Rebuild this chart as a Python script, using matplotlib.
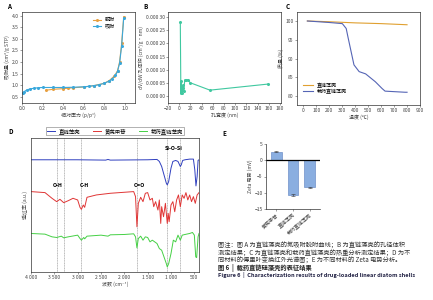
import numpy as np
import matplotlib.pyplot as plt

plt.rcParams['font.family'] = ['Noto Sans CJK SC', 'DejaVu Sans']
plt.rcParams['axes.unicode_minus'] = True

# --- A: N2 isotherm ---
p_ads = [0.005, 0.02, 0.05, 0.08, 0.12, 0.16, 0.2, 0.3, 0.4, 0.5, 0.6, 0.65, 0.7,
         0.75, 0.8, 0.85, 0.88, 0.91, 0.93, 0.95, 0.97, 0.99]
v_ads = [0.65, 0.72, 0.8, 0.84, 0.87, 0.89, 0.9, 0.9, 0.9, 0.91, 0.93, 0.95, 0.98,
         1.02, 1.08, 1.18, 1.28, 1.42, 1.6, 1.95, 2.7, 3.9]
p_des = [0.23, 0.3, 0.4, 0.45, 0.5, 0.6, 0.7, 0.8, 0.85, 0.9, 0.93, 0.95, 0.97, 0.99]
v_des = [0.78, 0.82, 0.85, 0.87, 0.89, 0.92, 0.98, 1.08, 1.2, 1.4, 1.62, 2.0, 2.8, 3.95]

# --- B: pore size distribution ---
pore_w = [2, 3, 4, 5, 6, 7, 8, 10, 12, 15, 20, 55, 158]
pore_v = [0.00028, 0.00001, 0.000055, 0.00001, 0.00003, 0.00004, 0.00002, 0.00006,
          0.00006, 0.000062, 0.00005, 0.000022, 0.000045]

# --- C: TGA ---
temp_plain = [30, 200, 400, 600, 800]
mass_plain = [100, 99.8, 99.5, 99.3, 99.0]
temp_load = [30, 200, 300, 330, 345, 365, 390, 430, 480, 555, 607, 630, 680, 785, 800]
mass_load = [100, 99.6, 99.3, 98.0, 95.5, 92.3, 88.3, 86.5, 85.9, 83.8, 82.0, 81.3, 81.2, 81.0, 81.0]

# --- D: FTIR ---
wn_blue = [4000, 3000, 2400, 2350, 2300, 1500, 1300, 1250, 1200, 1150, 1100, 1080, 1050,
           1000, 960, 900, 850, 800, 780, 750, 700, 600, 520, 490, 465, 440, 420, 400]
t_blue = [3.40, 3.40, 3.39, 3.41, 3.39, 3.40, 3.41, 3.35, 3.20, 2.95, 2.70, 2.65, 2.75,
          3.15, 3.35, 3.38, 3.35, 3.20, 3.25, 3.38, 3.40, 3.42, 3.42, 3.10, 2.62, 2.90, 3.38, 3.40]
wn_red = [4000, 3700, 3550, 3450, 3380, 3300, 3200, 3100, 3000, 2950, 2920, 2880, 2850, 2800,
          2600, 2300, 2000, 1800, 1760, 1730, 1700, 1650, 1600, 1550, 1500, 1450, 1400, 1370,
          1330, 1280, 1250, 1220, 1200, 1160, 1120, 1080, 1060, 1040, 1000, 960, 920, 880,
          840, 800, 760, 720, 680, 640, 600, 560, 520, 480, 440, 400]
t_red = [2.45, 2.42, 2.25, 2.15, 2.22, 2.12, 2.18, 2.25, 2.20, 1.98, 1.92, 2.05, 1.98, 2.28,
         2.35, 2.40, 2.43, 2.45, 2.30, 1.40, 2.10, 2.28, 2.15, 2.40, 2.42, 2.20, 2.25, 2.00,
         2.15, 1.90, 2.20, 1.50, 2.00, 1.70, 2.10, 1.50, 1.80, 1.55, 2.05, 2.15, 1.85, 2.20,
         2.35, 2.00, 2.35, 2.25, 2.42, 2.20, 2.35, 2.15, 2.30, 2.10, 2.35, 2.42]
wn_green = [4000, 3700, 3550, 3450, 3350, 3300, 3200, 3000, 2950, 2920, 2870, 2850, 2800,
            2500, 2350, 2300, 2000, 1800, 1760, 1730, 1700, 1650, 1600, 1550, 1500, 1450,
            1400, 1300, 1250, 1200, 1150, 1100, 1080, 1050, 1000, 950, 900, 850, 800, 760,
            700, 600, 540, 500, 470, 450, 420, 400]
t_green = [1.20, 1.18, 1.10, 1.08, 1.12, 1.07, 1.10, 1.15, 1.05, 1.00, 1.08, 1.04, 1.12,
           1.15, 1.12, 1.16, 1.17, 1.19, 1.10, 0.77, 1.05, 1.12, 1.00, 1.10, 1.08, 0.95,
           1.00, 0.90, 0.75, 0.70, 0.50, 0.30, 0.20, 0.30, 0.60, 1.00, 0.95, 1.15, 1.00, 1.15,
           1.17, 1.20, 1.23, 1.15, 0.50, 0.48, 1.10, 1.20]
band_pos = [3450, 3300, 2930, 1730, 1080, 800]

# --- E: Zeta ---
zeta_names = ['黄芪甲苷', '直链藻壳', '载药直链藻壳']
zeta_vals = [2.6, -10.7, -8.3]
zeta_err = [0.2, 0.4, 0.2]

fig = plt.figure(figsize=(4.33, 3.0), dpi=100)
W, H = 433, 300

def box(l, t, r, b):
    return [l / W, 1 - b / H, (r - l) / W, (b - t) / H]

fs = 3.6
txt = '#444444'
def style(ax):
    ax.tick_params(labelsize=fs, length=1.5, width=0.4, pad=1, colors='#555555',
                   labelcolor=txt)
    for s in ax.spines.values():
        s.set_linewidth(0.5)
        s.set_color('#333333')

# A
ax = fig.add_axes(box(22, 12, 135, 103))
ax.plot(p_des, v_des, color='#e8a040', lw=0.8, marker='o', ms=1.2, label='脱附')
ax.plot(p_ads, v_ads, color='#3aa8dc', lw=0.8, marker='o', ms=1.2, label='吸附')
ax.set_xlim(0, 1.1)
ax.set_ylim(0.23, 4.16)
ax.set_xticks([0, 0.2, 0.4, 0.6, 0.8, 1.0])
ax.set_yticks([0.5, 1.0, 1.5, 2.0, 2.5, 3.0, 3.5, 4.0])
ax.set_xlabel('相对压力 (p/p°)', fontsize=fs, labelpad=1, color=txt)
ax.set_ylabel('吸附量 (cm³/g STP)', fontsize=fs, labelpad=1, color=txt)
ax.legend(fontsize=fs, frameon=False, loc='upper left', bbox_to_anchor=(0.6, 0.98),
          handlelength=1.5, borderpad=0.2, labelspacing=0.2)
style(ax)
fig.text(7 / W, 1 - 9 / H, 'A', fontsize=4.5, fontweight='bold')

# B
ax = fig.add_axes(box(168, 12, 281, 103))
ax.plot(pore_w, pore_v, color='#40c8a0', lw=0.8, marker='o', ms=1.2)
ax.set_xlim(-17, 182)
ax.set_ylim(-0.000027, 0.00032)
ax.set_xticks(range(-20, 181, 20))
ax.set_yticks([0, 0.00005, 0.0001, 0.00015, 0.0002, 0.00025, 0.0003])
ax.set_yticklabels(['0.000 00', '0.000 05', '0.000 10', '0.000 15', '0.000 20',
                    '0.000 25', '0.000 30'])
ax.set_xlabel('孔宽度 (nm)', fontsize=fs, labelpad=1, color=txt)
ax.set_ylabel('dV/dW 孔体积 (cm³/g·nm)', fontsize=fs, labelpad=1, color=txt)
style(ax)
fig.text(143 / W, 1 - 9 / H, 'B', fontsize=4.5, fontweight='bold')

# C
ax = fig.add_axes(box(297, 12, 420, 105))
ax.plot(temp_plain, mass_plain, color='#e0a030', lw=0.8, label='直链藻壳')
ax.plot(temp_load, mass_load, color='#5565b5', lw=0.8, label='载药直链藻壳')
ax.set_xlim(-50, 890)
ax.set_ylim(77.6, 102.4)
ax.set_xticks(range(0, 901, 100))
ax.set_yticks([80, 85, 90, 95, 100])
ax.set_xlabel('温度 (℃)', fontsize=fs, labelpad=1, color=txt)
ax.set_ylabel('质量 (%)', fontsize=fs, labelpad=1, color=txt)
ax.legend(fontsize=fs, frameon=False, loc='lower left', bbox_to_anchor=(0.02, 0.08),
          handlelength=2, borderpad=0.2, labelspacing=0.2)
style(ax)
fig.text(286 / W, 1 - 9 / H, 'C', fontsize=4.5, fontweight='bold')

# D
ax = fig.add_axes(box(31, 138, 199, 272))
for x in band_pos:
    ax.axvline(x, color='#888888', lw=0.4, ls=(0, (2, 1)))
ax.plot(wn_blue, t_blue, color='#2f3fbf', lw=0.7, label='直链藻壳')
ax.plot(wn_red, t_red, color='#e03535', lw=0.7, label='黄芪甲苷')
ax.plot(wn_green, t_green, color='#45d045', lw=0.7, label='载药直链藻壳')
ax.set_xlim(4000, 400)
ax.set_ylim(0.05, 4.05)
ax.set_xticks([4000, 3500, 3000, 2500, 2000, 1500, 1000, 500])
ax.set_xticklabels(['4 000', '3 500', '3 000', '2 500', '2 000', '1 500', '1 000', '500'])
ax.set_yticks([])
ax.set_xlabel('波数 (cm⁻¹)', fontsize=fs, labelpad=1, color=txt)
ax.set_ylabel('透过率 (a.u.)', fontsize=fs, labelpad=2, color=txt)
for lab, x, y in [('O-H', 3420, 2.6), ('C-H', 2850, 2.6), ('C=O', 1680, 2.6),
                  ('Si-O-Si', 950, 3.7)]:
    ax.text(x, y, lab, fontsize=3.3, fontweight='bold', ha='center', family='DejaVu Sans')
ax.legend(fontsize=3.9, loc='lower center', bbox_to_anchor=(0.5, 1.0), ncol=3,
          frameon=True, fancybox=False, edgecolor='#555555', handlelength=1.5,
          borderpad=0.2, columnspacing=2.2).get_frame().set_linewidth(0.4)
style(ax)
fig.text(8 / W, 1 - 134 / H, 'D', fontsize=4.5, fontweight='bold')

# E
ax = fig.add_axes(box(266, 144, 320, 209))
xpos = np.arange(len(zeta_vals))
ax.bar(xpos, zeta_vals, width=0.65, color='#8aaee0', edgecolor='#5a7fc0', lw=0.4,
       yerr=zeta_err, error_kw=dict(lw=0.4, capsize=1.2, capthick=0.4, ecolor='#333333'))
ax.axhline(0, color='black', lw=0.9)
ax.set_xlim(-0.6, 2.6)
ax.set_ylim(-15, 5)
ax.set_yticks([5, 0, -5, -10, -15])
ax.set_xticks(xpos)
ax.set_xticklabels(zeta_names, rotation=40, ha='right', rotation_mode='anchor')
ax.set_ylabel('Zeta 电势 (mV)', fontsize=fs, labelpad=1, color=txt)
for s in ['top', 'right']:
    ax.spines[s].set_visible(False)
style(ax)
fig.text(222 / W, 1 - 136 / H, 'E', fontsize=4.5, fontweight='bold')

# caption
cap = ['图注：图 A 为直链藻壳的氮吸附脱附曲线；B 为直链藻壳的孔径体积',
       '测定结果；C 为直链藻壳和载药直链藻壳的热重分析测定结果；D 为不',
       '同材料的傅里叶变换红外光谱图；E 为不同材料的 Zeta 电势分析。']
for i, line in enumerate(cap):
    fig.text(218 / W, 1 - (246 + 7.5 * i) / H, line, fontsize=4.5, color='#333333',
             va='center')
fig.text(218 / W, 1 - 268 / H, '图 6  |  载药直链硅藻壳的表征结果', fontsize=4.5,
         fontweight='bold', color='#222222', va='center')
fig.text(218 / W, 1 - 275 / H,
         'Figure 6  |  Characterization results of drug-loaded linear diatom shells',
         fontsize=4.1, fontweight='bold', color='#222244', va='center')

fig.savefig('out.png', dpi=100)
